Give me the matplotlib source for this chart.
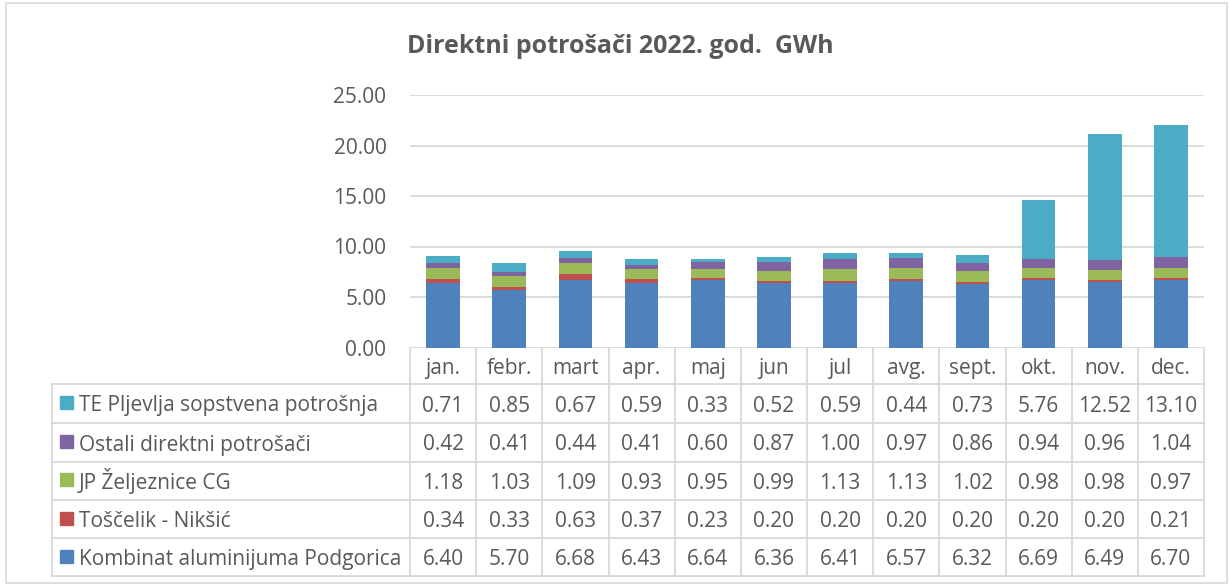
import matplotlib
matplotlib.use("Agg")
import matplotlib.pyplot as plt
import numpy as np

months = ["jan.", "febr.", "mart", "apr.", "maj", "jun", "jul", "avg.", "sept.", "okt.", "nov.", "dec."]
kombinat = [6.40, 5.70, 6.68, 6.43, 6.64, 6.36, 6.41, 6.57, 6.32, 6.69, 6.49, 6.70]
toscelik = [0.34, 0.33, 0.63, 0.37, 0.23, 0.20, 0.20, 0.20, 0.20, 0.20, 0.20, 0.21]
zeljeznice = [1.18, 1.03, 1.09, 0.93, 0.95, 0.99, 1.13, 1.13, 1.02, 0.98, 0.98, 0.97]
ostali = [0.42, 0.41, 0.44, 0.41, 0.60, 0.87, 1.00, 0.97, 0.86, 0.94, 0.96, 1.04]
te_pljevlja = [0.71, 0.85, 0.67, 0.59, 0.33, 0.52, 0.59, 0.44, 0.73, 5.76, 12.52, 13.10]

series_names = ["Kombinat aluminijuma Podgorica", "Toščelik - Nikšić", "JP Željeznice CG",
                "Ostali direktni potrošači", "TE Pljevlja sopstvena potrošnja"]
series_vals = [kombinat, toscelik, zeljeznice, ostali, te_pljevlja]
colors = ["#4F81BD", "#C0504D", "#9BBB59", "#8064A2", "#4BACC6"]
title = "Direktni potrošači 2022. god.  GWh"
yticks = [0, 5, 10, 15, 20, 25]

FONT = ["Open Sans", "DejaVu Sans"]
plt.rcParams['font.family'] = FONT
TXT = "#595959"
GRID = "#D9D9D9"
FS = 15

W, H = 1230, 585
fig = plt.figure(figsize=(W / 100, H / 100), dpi=100)

# pixel layout
x0, x1 = 410, 1204      # plot / table columns
y_top, y_zero = 95, 347.5
row_edges = [347.5, 384, 422.5, 461.5, 500, 538, 576]
tbl_left = 51.5

ax = fig.add_axes([x0 / W, 1 - y_zero / H, (x1 - x0) / W, (y_zero - y_top) / H])
n = len(months)
x = np.arange(n)
bottom = np.zeros(n)
for vals, c in zip(series_vals, colors):
    ax.bar(x, vals, width=0.51, bottom=bottom, color=c, zorder=3)
    bottom += np.array(vals)
ax.set_xlim(-0.5, n - 0.5)
ax.set_ylim(0, 25)
ax.set_yticks(yticks)
ax.set_yticklabels([f"{v:.2f}" for v in yticks], color=TXT, fontsize=FS)
ax.tick_params(axis='y', length=0, pad=17)
ax.set_xticks([])
for s in ax.spines.values():
    s.set_visible(False)
ax.yaxis.grid(True, color=GRID, lw=1.3, zorder=1)
ax.set_axisbelow(True)

# overlay in pixel coordinates
ov = fig.add_axes([0, 0, 1, 1], facecolor="none")
ov.set_xlim(0, W)
ov.set_ylim(H, 0)
ov.axis("off")

col_w = (x1 - x0) / n
col_edges = [x0 + i * col_w for i in range(n + 1)]
for i, yy in enumerate(row_edges):
    if i == 0:
        continue
    ov.plot([tbl_left, x1], [yy, yy], color=GRID, lw=1.3)
for xe in col_edges:
    ov.plot([xe, xe], [row_edges[0], row_edges[-1]], color=GRID, lw=1.3)
ov.plot([tbl_left, tbl_left], [row_edges[1], row_edges[-1]], color=GRID, lw=1.3)

# header
for i, m in enumerate(months):
    ov.text(col_edges[i] + col_w / 2, row_edges[1] - 10, m,
            ha="center", va="baseline", fontsize=FS, color=TXT)

# rows: top row is last series
rows = list(zip(series_names, series_vals, colors))[::-1]
for r, (name, vals, c) in enumerate(rows):
    top, bot = row_edges[r + 1], row_edges[r + 2]
    yc = (top + bot) / 2 - 1
    ov.add_patch(plt.Rectangle((60, yc - 6.5), 13, 13, color=c))
    ov.text(79, bot - 11, name, ha="left", va="baseline", fontsize=FS, color=TXT)
    for i, v in enumerate(vals):
        ov.text(col_edges[i] + col_w / 2, bot - 11, f"{v:.2f}", ha="center", va="baseline",
                fontsize=FS, color=TXT)

# title
ov.text(620, 53, title, ha="center", va="baseline", fontsize=18, fontweight="bold", color=TXT)

# outer border
ov.add_patch(plt.Rectangle((5.5, 2.5), W - 8.5, H - 5, fill=False, edgecolor=GRID, lw=1.2))

fig.savefig("out.png", dpi=100)
